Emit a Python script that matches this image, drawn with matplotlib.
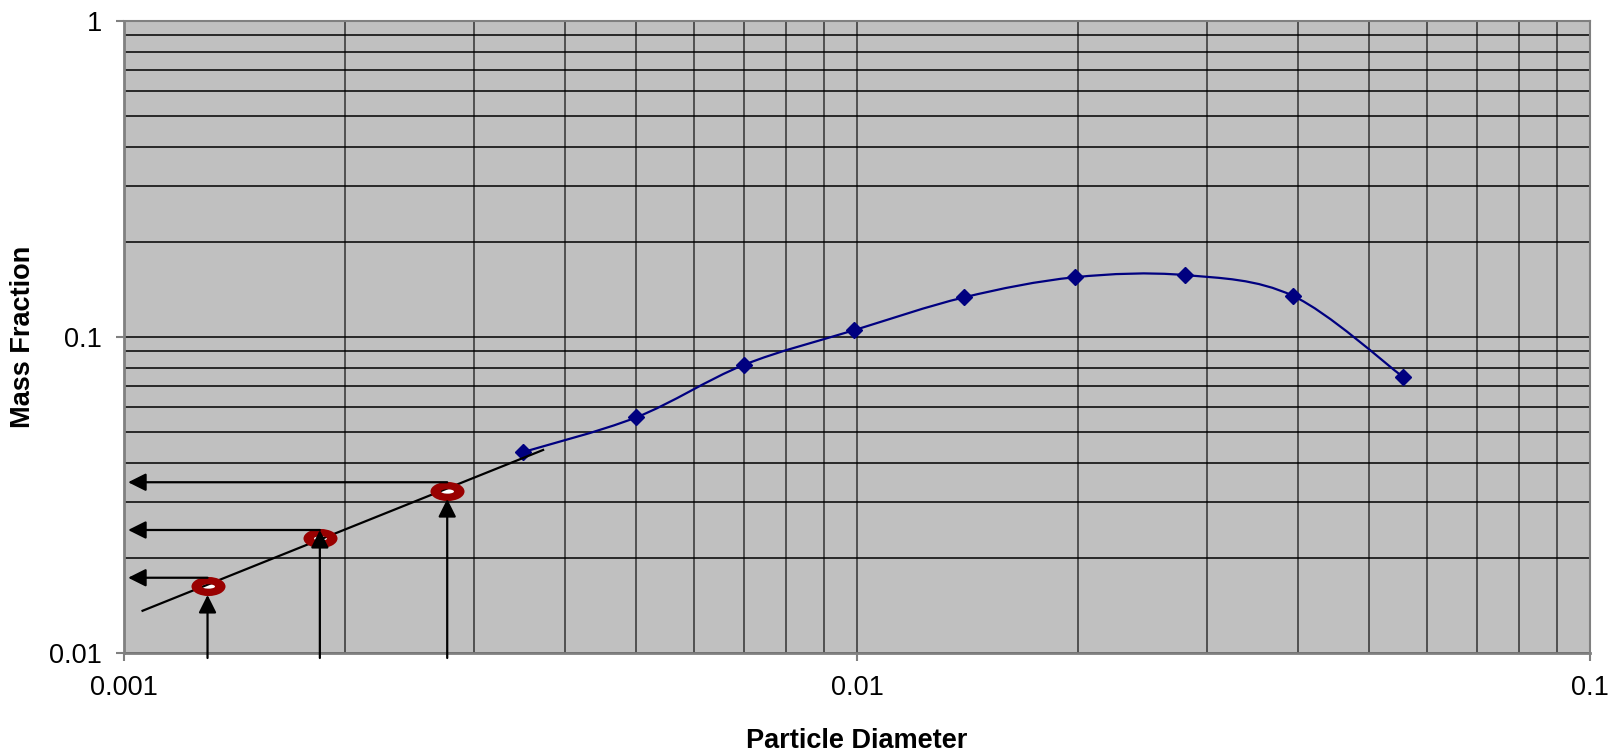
import numpy as np
import matplotlib
matplotlib.use("Agg")
import matplotlib.pyplot as plt
from matplotlib.path import Path
from matplotlib.patches import PathPatch
from matplotlib.ticker import LogLocator, FixedLocator, FixedFormatter, NullFormatter

# Measured distribution (diamonds)
particle_diameter = [0.0035, 0.005, 0.007, 0.0099, 0.014, 0.0198, 0.028, 0.0393, 0.0555]
mass_fraction = [0.0432, 0.0557, 0.0815, 0.105, 0.1335, 0.1545, 0.157, 0.135, 0.0749]

# Extrapolated fit line (end points)
fit_x = [0.00106, 0.00373]
fit_y = [0.0136, 0.0439]

# Read-off points on the fit line (rings)
ring_x = [0.0013, 0.00185, 0.00276]
ring_y = [0.0163, 0.0231, 0.0326]

# Arrows: horizontal ones point to the y axis, vertical ones come up from the x axis
harrow_y = [0.0173, 0.0245, 0.0347]
harrow_end_x = 0.001013
varrow_start_y = 0.00964
varrow_tip_y = [0.01526, 0.0245, 0.0307]

x_ticks = [0.001, 0.01, 0.1]
x_tick_labels = ["0.001", "0.01", "0.1"]
y_ticks = [0.01, 0.1, 1]
y_tick_labels = ["0.01", "0.1", "1"]

NAVY = "#000080"
DARK_RED = "#990000"
GRAY = "#808080"

plt.rcParams['font.family'] = ['Liberation Sans', 'DejaVu Sans']


def smooth_path(xs, ys):
    # Excel style smoothed line: cubic bezier segments through the points (log space)
    pts = np.column_stack([np.log10(xs), np.log10(ys)])
    n = len(pts)
    verts = [pts[0]]
    codes = [Path.MOVETO]
    for i in range(n - 1):
        p0 = pts[max(i - 1, 0)]
        p1 = pts[i]
        p2 = pts[i + 1]
        p3 = pts[min(i + 2, n - 1)]
        verts += [p1 + (p2 - p0) / 6, p2 - (p3 - p1) / 6, p2]
        codes += [Path.CURVE4] * 3
    return Path(10 ** np.array(verts), codes)


def ellipse_marker(rx, ry, inner=None):
    circ = Path.unit_circle()
    outer = circ.vertices * [rx, ry]
    if inner is None:
        return Path(outer, circ.codes)
    hole = circ.vertices[::-1] * [inner[0], inner[1]]
    verts = np.concatenate([outer, hole])
    codes = np.concatenate([circ.codes, circ.codes])
    return Path(verts, codes)


fig = plt.figure(figsize=(16.22, 7.54), dpi=100)
ax = fig.add_axes([0.07645, 0.1340, 0.9039, 0.83815])
ax.set_facecolor("#C0C0C0")
ax.set_xscale("log")
ax.set_yscale("log")
ax.set_xlim(0.001, 0.1)
ax.set_ylim(0.01, 1)

# grid on every minor decade step
ax.xaxis.set_minor_locator(LogLocator(base=10, subs=np.arange(2, 10)))
ax.yaxis.set_minor_locator(LogLocator(base=10, subs=np.arange(2, 10)))
ax.xaxis.set_minor_formatter(NullFormatter())
ax.yaxis.set_minor_formatter(NullFormatter())
ax.grid(True, which="both", axis="x", color="#333333", linewidth=1.1)
ax.grid(True, which="both", axis="y", color="#000000", linewidth=1.1)
ax.set_axisbelow(True)

ax.xaxis.set_major_locator(FixedLocator(x_ticks))
ax.xaxis.set_major_formatter(FixedFormatter(x_tick_labels))
ax.yaxis.set_major_locator(FixedLocator(y_ticks))
ax.yaxis.set_major_formatter(FixedFormatter(y_tick_labels))
ax.tick_params(which="major", direction="out", length=5.8, width=1.5, color=GRAY,
               labelsize=19.5, pad=10, labelcolor="black")
ax.tick_params(which="minor", length=0)
for side in ["left", "bottom"]:
    ax.spines[side].set_color(GRAY)
    ax.spines[side].set_linewidth(2)
for side in ["top", "right"]:
    ax.spines[side].set_color(GRAY)
    ax.spines[side].set_linewidth(1.5)

# measured curve
ax.add_patch(PathPatch(smooth_path(particle_diameter, mass_fraction), fill=False,
                       edgecolor=NAVY, linewidth=1.6, zorder=3))
ax.plot(particle_diameter, mass_fraction, linestyle="none", marker="D", markersize=8.5,
        color=NAVY, zorder=4)

# rings: white centre, then fit line, then the red ring on top
ax.plot(ring_x, ring_y, linestyle="none", marker=ellipse_marker(1, 0.33), markersize=9.5,
        markerfacecolor="white", markeredgewidth=0, zorder=4)
ax.plot(fit_x, fit_y, color="black", linewidth=1.6, zorder=5)
ax.plot(ring_x, ring_y, linestyle="none",
        marker=ellipse_marker(1, 0.56, inner=(0.38, 0.13)), markersize=24.5,
        markerfacecolor=DARK_RED, markeredgewidth=0, zorder=6)

arrow_props = dict(arrowstyle="-|>,head_length=0.6,head_width=0.3", mutation_scale=18,
                   color="black", linewidth=1.6, shrinkA=0, shrinkB=0)
for x0, y0 in zip(ring_x, harrow_y):
    ax.annotate("", xy=(harrow_end_x, y0), xytext=(x0, y0), arrowprops=arrow_props,
                zorder=7, annotation_clip=False)
for x0, y1 in zip(ring_x, varrow_tip_y):
    a = ax.annotate("", xy=(x0, y1), xytext=(x0, varrow_start_y), arrowprops=arrow_props,
                    zorder=7, annotation_clip=False)
    a.arrow_patch.set_clip_on(False)

ax.set_xlabel("Particle Diameter", fontsize=19.5, fontweight="bold", va="center")
ax.xaxis.set_label_coords(0.5, -0.1386)
ax.set_ylabel("Mass Fraction", fontsize=19.5, fontweight="bold", va="center", ha="center")
ax.yaxis.set_label_coords(-0.0691, 0.5)

fig.savefig("out.png", dpi=100)
